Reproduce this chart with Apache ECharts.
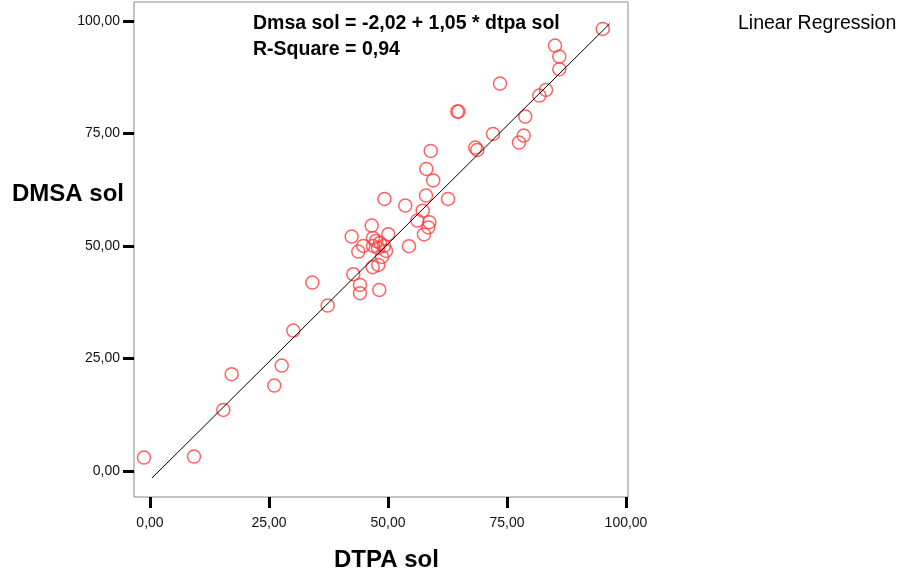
<!DOCTYPE html>
<html>
<head>
<meta charset="utf-8">
<script src="https://cdn.jsdelivr.net/npm/echarts@6/dist/echarts.min.js"></script>
<style>
html,body{margin:0;padding:0;background:#fff;}
#chart{width:906px;height:581px;}
</style>
</head>
<body>
<div id="chart"></div>
<script>
// DTPA sol (x) values
const dtpa = [-1.26, 9.24, 15.40, 17.16, 26.11, 27.67, 30.11, 34.10, 37.33, 42.37,
  42.71, 44.12, 44.12, 43.76, 44.81, 46.58, 46.79, 47.96, 48.17, 46.85,
  47.48, 46.85, 48.32, 49.16, 47.90, 49.58, 48.74, 50.06, 49.26, 53.63,
  54.41, 56.16, 57.29, 57.56, 57.98, 58.05, 58.68, 58.47, 58.97, 59.50,
  62.61, 64.56, 64.81, 68.34, 68.76, 72.06, 73.53, 77.52, 78.51, 78.84,
  81.79, 83.19, 85.08, 85.99, 85.99, 95.11];
// DMSA sol (y) values
const dmsa = [2.96, 3.18, 13.56, 21.49, 18.96, 23.40, 31.18, 41.84, 36.73, 52.07,
  43.71, 41.33, 39.49, 48.73, 50.00, 54.51, 45.27, 45.78, 40.22, 51.78,
  51.11, 50.00, 50.67, 50.00, 49.56, 48.89, 47.56, 52.60, 60.44, 58.96,
  49.93, 55.62, 57.82, 52.56, 61.18, 67.11, 55.27, 54.11, 71.11, 64.56,
  60.44, 79.84, 79.84, 71.84, 71.33, 74.89, 86.07, 72.96, 74.51, 78.73,
  83.40, 84.67, 94.51, 92.07, 89.27, 98.22];
// Fit line end points
const fitX = [0.4, 96.6];
const fitY = [-1.6, 99.4];
// Tick values
const xTicks = [0, 25, 50, 75, 100];
const yTicks = [0, 25, 50, 75, 100];

const points = dtpa.map((x, i) => [x, dmsa[i]]);
const fitLine = fitX.map((x, i) => [x, fitY[i]]);
const fmt = v => v.toFixed(2).replace('.', ',');
const FONT = 'Liberation Sans, Arial, sans-serif';

const chart = echarts.init(document.getElementById('chart'), null, {renderer: 'canvas'});
chart.setOption({
  animation: false,
  backgroundColor: '#fff',
  textStyle: {fontFamily: FONT},
  grid: {left: 134, top: 2, right: 278, bottom: 84, show: true,
    borderColor: '#888', borderWidth: 1, backgroundColor: 'transparent'},
  xAxis: {
    type: 'value', min: -3.36, max: 100.42,
    splitLine: {show: false},
    axisLine: {show: false, onZero: false},
    axisTick: {show: true, inside: false, length: 11, customValues: xTicks,
      lineStyle: {color: '#000', width: 3}},
    axisLabel: {show: true, customValues: xTicks, formatter: fmt, margin: 19,
      color: '#111', fontSize: 14, fontFamily: FONT}
  },
  yAxis: {
    type: 'value', min: -5.8, max: 104.2,
    splitLine: {show: false},
    axisLine: {show: false, onZero: false},
    axisTick: {show: true, inside: false, length: 11, customValues: yTicks,
      lineStyle: {color: '#000', width: 3}},
    axisLabel: {show: true, customValues: yTicks, formatter: fmt, margin: 14,
      color: '#111', fontSize: 14, fontFamily: FONT}
  },
  series: [
    {
      type: 'scatter', data: points, symbol: 'circle', symbolSize: 13,
      itemStyle: {color: 'rgba(0,0,0,0)', borderColor: '#ff3b3b', borderWidth: 1.5},
      z: 2
    },
    {
      type: 'line', data: fitLine, symbol: 'none', silent: true,
      lineStyle: {color: '#000', width: 1}, z: 3
    }
  ],
  graphic: [
    {type: 'text', left: 253, top: 14, style: {text: 'Dmsa sol = -2,02 + 1,05 * dtpa sol',
      font: 'bold 19.5px ' + FONT, fill: '#000'}},
    {type: 'text', left: 253, top: 40, style: {text: 'R-Square = 0,94',
      font: 'bold 19.5px ' + FONT, fill: '#000'}},
    {type: 'text', left: 738, top: 14, style: {text: 'Linear Regression',
      font: '19.5px ' + FONT, fill: '#000'}},
    {type: 'text', left: 12, top: 182, style: {text: 'DMSA sol',
      font: 'bold 24px ' + FONT, fill: '#000'}},
    {type: 'text', left: 334, top: 548, style: {text: 'DTPA sol',
      font: 'bold 24px ' + FONT, fill: '#000'}}
  ]
});
</script>
</body>
</html>
